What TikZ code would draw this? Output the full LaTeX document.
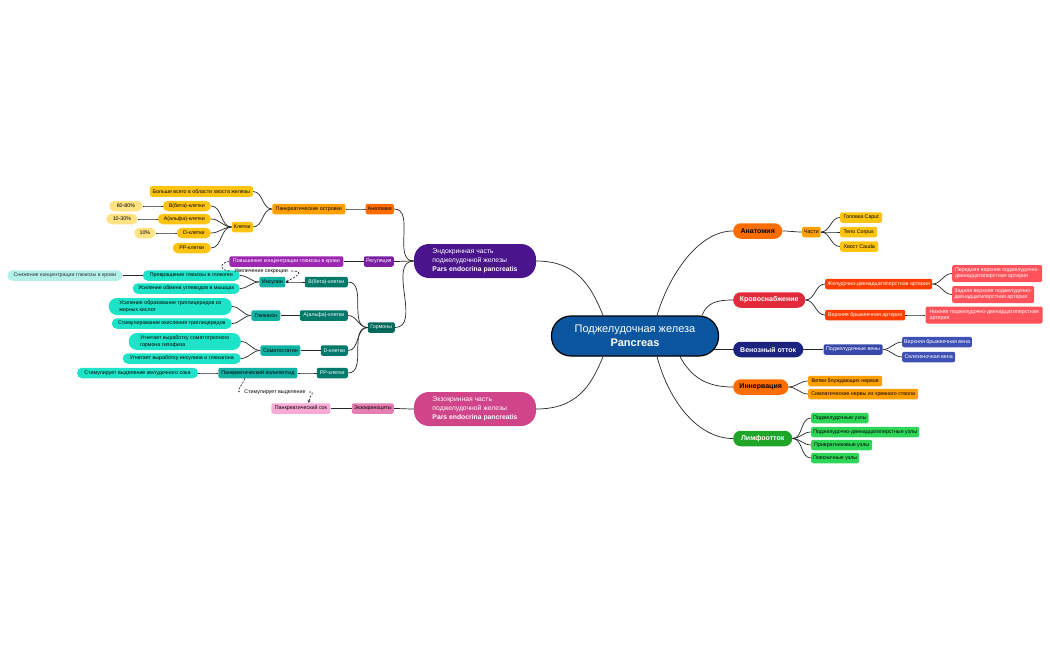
\documentclass[tikz,border=0pt]{standalone}
\usepackage{fontspec}
\setmainfont{Liberation Sans}
\usepackage{tikz}
\usetikzlibrary{arrows.meta, positioning, backgrounds, calc}
\definecolor{rootblue}{RGB}{12, 86, 160}
\definecolor{endopurple}{RGB}{74, 20, 140}
\definecolor{exopink}{RGB}{208, 68, 138}
\definecolor{anatorange}{RGB}{255, 109, 0}
\definecolor{amber}{RGB}{255, 160, 0}
\definecolor{goldleaf}{RGB}{255, 196, 18}
\definecolor{paleyellow}{RGB}{255, 226, 130}
\definecolor{bloodred}{RGB}{226, 42, 58}
\definecolor{arteryred}{RGB}{255, 61, 0}
\definecolor{artleaf}{RGB}{255, 82, 90}
\definecolor{venousnavy}{RGB}{26, 35, 126}
\definecolor{veinindigo}{RGB}{57, 73, 171}
\definecolor{veinleaf}{RGB}{63, 81, 181}
\definecolor{lymphgreen}{RGB}{31, 166, 40}
\definecolor{nodegreen}{RGB}{46, 214, 88}
\definecolor{regpurple}{RGB}{123, 31, 162}
\definecolor{risepurple}{RGB}{156, 39, 176}
\definecolor{hormteal}{RGB}{0, 105, 92}
\definecolor{cellteal}{RGB}{0, 121, 107}
\definecolor{hormone}{RGB}{17, 178, 163}
\definecolor{effect}{RGB}{29, 228, 200}
\definecolor{paleturq}{RGB}{178, 240, 232}
\definecolor{juicepink}{RGB}{248, 170, 212}
\definecolor{exocytepink}{RGB}{229, 126, 178}
\definecolor{dashnavy}{RGB}{40, 40, 70}
\newcommand{\leaffont}{\fontsize{5.3}{6.3}\selectfont}
\newcommand{\topicfont}{\fontsize{7}{8.4}\selectfont\bfseries}
\newcommand{\partfont}{\fontsize{6.8}{9}\selectfont}
\newcommand{\rootfont}{\fontsize{11}{14}\selectfont}

\begin{document}
\begin{tikzpicture}[
    x=1pt, y=-1pt,
    node distance=20pt,
    leaf/.style={rounded corners=2pt, font=\leaffont, inner xsep=2pt, inner ysep=1pt, minimum height=10.5pt, align=center},
    pill/.style={leaf, rounded corners=5pt},
    twopill/.style={leaf, rounded corners=8pt, minimum height=17pt, align=left},
    twoline/.style={leaf, minimum height=17pt, align=left},
    topic/.style={rounded corners=7.5pt, font=\topicfont, minimum height=15.5pt, inner xsep=3pt},
    part/.style={rounded corners=15pt, font=\partfont, text=white, minimum width=122pt, minimum height=34pt, align=left},
    link/.style={draw=black!85, line width=0.7pt},
    dashlink/.style={draw=dashnavy, line width=0.7pt, dash pattern=on 2pt off 1.5pt}
]
    \useasboundingbox (0,0) rectangle (1050,650);

    % Centre and the two parts
    \node[draw=black, line width=1.2pt, fill=rootblue, text=white, rounded corners=19.5pt, minimum width=167pt, minimum height=40pt, font=\rootfont, align=center] (root) at (635,336) {Поджелудочная железа\\\textbf{Pancreas}};
    \node[part, fill=endopurple] (endo) at (475,261) {Эндокринная часть\\поджелудочной железы\\\textbf{Pars endocrina pancreatis}};
    \node[part, fill=exopink] (exo) at (475,409) {Экзокринная часть\\поджелудочной железы\\\textbf{Pars endocrina pancreatis}};

    % Right: anatomy
    \node[topic, fill=anatorange, minimum width=49pt, anchor=west] (anatR) at (733,231) {Анатомия};
    \node[leaf, fill=amber, minimum width=18pt, anchor=west] (parts) at (802,232) {Части};
    \node[leaf, fill=goldleaf, minimum width=42pt, anchor=west] (caput) at (840,217.5) {Головка Caput};
    \node[leaf, fill=goldleaf, minimum width=37pt, anchor=west] (corpus) at (840,232) {Тело Corpus};
    \node[leaf, fill=goldleaf, minimum width=38pt, anchor=west] (cauda) at (840,246.5) {Хвост Cauda};

    % Right: blood supply
    \node[topic, fill=bloodred, text=white, minimum width=72pt, anchor=west] (blood) at (733,300) {Кровоснабжение};
    \node[leaf, fill=arteryred, text=white, minimum width=107pt, anchor=west] (gda) at (825,284) {Желудочно-двенадцатиперстная артерия};
    \node[leaf, fill=arteryred, text=white, minimum width=80pt, anchor=west] (sma) at (825,315) {Верхняя брыжеечная артерия};
    \node[twoline, fill=artleaf, text=white, minimum width=90pt, anchor=west] (aspda) at (952,273.5) {Передняя верхняя поджелудочно-\\двенадцатиперстная артерия};
    \node[twoline, fill=artleaf, text=white, minimum width=82pt, anchor=west] (pspda) at (952,294.5) {Задняя верхняя поджелудочно-\\двенадцатиперстная артерия};
    \node[twoline, fill=artleaf, text=white, minimum width=117pt, right=20pt of sma] (ipda) {Нижняя поджелудочно-двенадцатиперстная\\артерия};

    % Right: veins
    \node[topic, fill=venousnavy, text=white, minimum width=70pt, anchor=west] (venous) at (733,349.5) {Венозный отток};
    \node[leaf, fill=veinindigo, text=white, minimum width=59pt, right=20pt of venous] (pveins) {Поджелудочные вены};
    \node[leaf, fill=veinleaf, text=white, minimum width=69pt, anchor=west] (smv) at (902,342) {Верхняя брыжеечная вена};
    \node[leaf, fill=veinleaf, text=white, minimum width=53pt, anchor=west] (splv) at (902,357) {Селезеночная вена};

    % Right: nerves
    \node[topic, fill=anatorange, minimum width=55pt, anchor=west] (innerv) at (733,387) {Иннервация};
    \node[leaf, fill=amber, minimum width=74pt, anchor=west] (vagus) at (808,381) {Ветви блуждающих нервов};
    \node[leaf, fill=amber, minimum width=110pt, anchor=west] (symp) at (808,394) {Симпатические нервы из чревного ствола};

    % Right: lymph
    \node[topic, fill=lymphgreen, text=white, minimum width=59pt, anchor=west] (lymph) at (733,438.5) {Лимфоотток};
    \node[leaf, fill=nodegreen, minimum width=57pt, anchor=west] (ln1) at (811,418) {Поджелудочные узлы};
    \node[leaf, fill=nodegreen, minimum width=108pt, anchor=west] (ln2) at (811,432) {Поджелудочно-двенадцатиперстные узлы};
    \node[leaf, fill=nodegreen, minimum width=61pt, anchor=west] (ln3) at (811,445) {Привратниковые узлы};
    \node[leaf, fill=nodegreen, minimum width=47pt, anchor=west] (ln4) at (811,458) {Поясничные узлы};

    % Left: islets
    \node[leaf, fill=anatorange, minimum width=28pt, anchor=east] (anatL) at (394,209) {Анатомия};
    \node[leaf, fill=amber, minimum width=73pt, left=20pt of anatL] (islets) {Панкреатические островки};
    \node[leaf, fill=goldleaf, minimum width=103pt, anchor=east] (most) at (253,191.5) {Больше всего в области хвоста железы};
    \node[leaf, fill=goldleaf, minimum width=21pt, anchor=east] (cells) at (253,227) {Клетки};
    \node[pill, fill=goldleaf, minimum width=48pt, anchor=east] (beta) at (211,206) {B(бета)-клетки};
    \node[pill, fill=goldleaf, minimum width=53pt, anchor=east] (alpha) at (211,219) {A(альфа)-клетки};
    \node[pill, fill=goldleaf, minimum width=34pt, anchor=east] (delta) at (211,233) {D-клетки};
    \node[pill, fill=goldleaf, minimum width=38pt, anchor=east] (pp) at (211,248) {PP-клетки};
    \node[pill, fill=paleyellow, minimum width=33pt, left=20pt of beta] (p6080) {60-80\%};
    \node[pill, fill=paleyellow, minimum width=31pt, left=20pt of alpha] (p1030) {10-30\%};
    \node[pill, fill=paleyellow, minimum width=21pt, left=21pt of delta] (p10) {10\%};

    % Left: regulation
    \node[leaf, fill=regpurple, text=white, minimum width=30pt, anchor=east] (reg) at (394,261.5) {Регуляция};
    \node[leaf, fill=risepurple, text=white, minimum width=114pt, left=20pt of reg] (rise) {Повышение концентрации глюкозы в крови};

    % Left: hormones
    \node[leaf, fill=hormteal, text=white, minimum width=27pt, anchor=east] (horm) at (395,327.5) {Гормоны};
    \node[leaf, fill=cellteal, text=white, minimum width=43pt, anchor=east] (betaT) at (348,282) {B(бета)-клетки};
    \node[leaf, fill=hormone, minimum width=26pt, left=19pt of betaT] (insulin) {Инсулин};
    \node[pill, fill=effect, minimum width=97pt, anchor=east] (glycogen) at (240,275.5) {Превращение глюкозы в гликоген};
    \node[pill, fill=effect, minimum width=107pt, anchor=east] (muscle) at (240,288.5) {Усиление обмена углеводов в мышцах};
    \node[pill, fill=paleturq, text=black!80, minimum width=115pt, left=20pt of glycogen] (drop) {Снижение концентрации глюкозы в крови};
    \node[leaf, fill=cellteal, text=white, minimum width=48pt, anchor=east] (alphaT) at (348,315.5) {A(альфа)-клетки};
    \node[leaf, fill=hormone, minimum width=29pt, left=19pt of alphaT] (glucagon) {Глюкагон};
    \node[twopill, fill=effect, minimum width=123pt, anchor=east] (tg1) at (232,306.5) {Усиление образование триглицеридов из\\жирных кислот};
    \node[pill, fill=effect, minimum width=120pt, anchor=east] (tg2) at (232,323.5) {Стимулирование окисления триглицеридов};
    \node[leaf, fill=cellteal, text=white, minimum width=27pt, anchor=east] (deltaT) at (348,350.5) {D-клетки};
    \node[leaf, fill=hormone, minimum width=40pt, left=20pt of deltaT] (somat) {Соматостатин};
    \node[twopill, fill=effect, minimum width=112pt, anchor=east] (gh) at (241,341.5) {Угнетает выработку соматотропного\\гормона гипофиза};
    \node[pill, fill=effect, minimum width=118pt, anchor=east] (insglu) at (241,358.5) {Угнетает выработку инсулина и глюкагона};
    \node[leaf, fill=cellteal, text=white, minimum width=31pt, anchor=east] (ppT) at (348,373) {PP-клетки};
    \node[leaf, fill=hormone, minimum width=79pt, left=19pt of ppT] (ppoly) {Панкреатический полипептид};
    \node[pill, fill=effect, minimum width=121pt, left=20pt of ppoly] (gastric) {Стимулирует выделение желудочного сока};

    % Left: exocrine
    \node[leaf, fill=exocytepink, minimum width=42pt, anchor=east] (exocyte) at (394,408.5) {Экзокриноциты};
    \node[leaf, fill=juicepink, minimum width=59pt, left=21pt of exocyte] (juice) {Панкреатический сок};

    % Labels on the dashed links
    \node[font=\leaffont] (secr) at (261,271) {Увеличение секреции};
    \node[font=\leaffont] (stim) at (275,392) {Стимулирует выделение};

    \begin{scope}[on background layer]
    % Links from the centre
    \draw[link] (endo.east) .. controls +(40,0) and +(-12,-30) .. ([xshift=-32pt]root.north);
    \draw[link] (exo.east) .. controls +(40,0) and +(-12,30) .. ([xshift=-32pt]root.south);
    \draw[link] ([xshift=22pt]root.north) .. controls +(12,-40) and +(-35,0) .. (anatR.west);
    \draw[link] ([xshift=67pt]root.north) .. controls +(5,-12) and +(-18,0) .. (blood.west);
    \draw[link] (venous.west -| root.center) -- (venous.west);
    \draw[link] ([xshift=45pt]root.south) .. controls +(12,22) and +(-25,0) .. (innerv.west);
    \draw[link] ([xshift=22pt]root.south) .. controls +(12,45) and +(-35,0) .. (lymph.west);

    % Right branches
    \foreach \a/\b in {anatR/parts, parts/caput, parts/corpus, parts/cauda,
                       blood/gda, blood/sma, gda/aspda, gda/pspda, sma/ipda,
                       venous/pveins, pveins/smv, pveins/splv,
                       innerv/vagus, innerv/symp,
                       lymph/ln1, lymph/ln2, lymph/ln3, lymph/ln4}
        \draw[link] (\a.east) to[out=0, in=180] (\b.west);

    % Left branches
    \foreach \a/\b in {anatL/endo, reg/endo, horm/endo, exocyte/exo,
                       islets/anatL, most/islets, cells/islets,
                       beta/cells, alpha/cells, delta/cells, pp/cells,
                       p6080/beta, p1030/alpha, p10/delta,
                       rise/reg, juice/exocyte,
                       betaT/horm, alphaT/horm, deltaT/horm, ppT/horm,
                       insulin/betaT, glycogen/insulin, muscle/insulin, drop/glycogen,
                       glucagon/alphaT, tg1/glucagon, tg2/glucagon,
                       somat/deltaT, gh/somat, insglu/somat,
                       ppoly/ppT, gastric/ppoly}
        \draw[link] (\a.east) to[out=0, in=180] (\b.west);
    \end{scope}

    % Dashed links
    \draw[dashlink] (rise.west) .. controls +(-12,2) and +(-10,0) .. (secr.west);
    \draw[dashlink, -{Stealth[length=3pt, width=2.6pt]}] (secr.east) .. controls +(16,0) and +(8,-4) .. (insulin.east);
    \draw[dashlink] ($(ppoly.south)+(-13,0)$) .. controls +(-4,9) and +(-6,0) .. (stim.west);
    \draw[dashlink, -{Stealth[length=3pt, width=2.6pt]}] (stim.east) .. controls +(8,0) and +(0,-8) .. ([xshift=8pt]juice.north);
\end{tikzpicture}
\end{document}
